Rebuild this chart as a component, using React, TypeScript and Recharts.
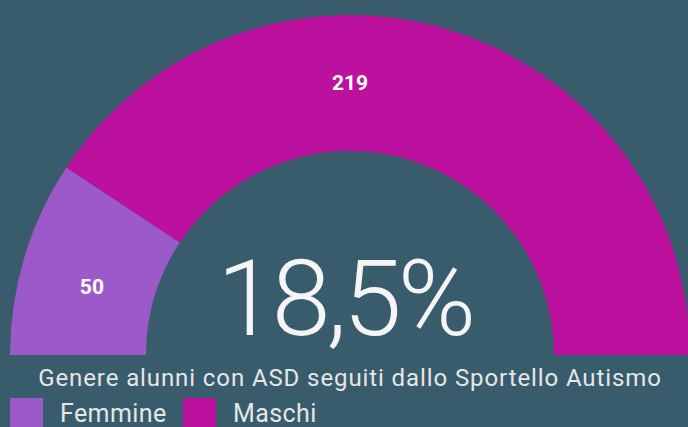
import React from "react";
import { PieChart, Pie, Cell, Legend } from "recharts";

const categories = ["Femmine", "Maschi"];
const values = [50, 219];
const colors = ["#9b59c9", "#bb119e"];
const centerLabel = "18,5%";
const title = "Genere alunni con ASD seguiti dallo Sportello Autismo";

const data = categories.map((name, i) => ({ name, value: values[i] }));

const BG = "#385c6c";
const FONT = "Roboto, 'Noto Sans', sans-serif";
const RAD = Math.PI / 180;

const renderLabel = (props: any) => {
  const { cx, cy, innerRadius, outerRadius, midAngle, index, value } = props;
  const mid = (innerRadius + outerRadius) / 2;
  // largest slice label sits at the top of the gauge
  const ang = index === 1 ? 90 : midAngle + 1.9;
  const r = index === 1 ? mid : mid - 5;
  const x = cx + r * Math.cos(-ang * RAD);
  const y = cy + r * Math.sin(-ang * RAD);
  return (
    <text
      x={x}
      y={y}
      fill="#ffffff"
      textAnchor="middle"
      dominantBaseline="central"
      fontFamily={FONT}
      fontWeight={700}
      fontSize={21}
    >
      {value}
    </text>
  );
};

const legendX = [10, 183];

const renderLegend = () => (
  <div style={{ position: "relative", height: 30, fontFamily: FONT }}>
    {categories.map((c, i) => (
      <div
        key={c}
        style={{ position: "absolute", left: legendX[i], top: 0, display: "flex", alignItems: "center" }}
      >
        <div style={{ width: 33, height: 30, background: colors[i] }} />
        <span
          style={{
            color: "#e6e6e6",
            fontSize: 25,
            marginLeft: 17,
            lineHeight: "30px",
            letterSpacing: 0.4,
            position: "relative",
            top: 1,
          }}
        >
          {c}
        </span>
      </div>
    ))}
  </div>
);

export default function App() {
  return (
    <div
      style={{
        position: "absolute",
        left: 0,
        top: 0,
        width: 688,
        height: 427,
        background: BG,
        overflow: "hidden",
      }}
    >
      <PieChart width={688} height={427} margin={{ top: 0, right: 0, bottom: 0, left: 0 }}>
        <Pie
          data={data}
          dataKey="value"
          nameKey="name"
          cx={350}
          cy={355}
          innerRadius={204}
          outerRadius={340}
          startAngle={180}
          endAngle={0}
          stroke="none"
          isAnimationActive={false}
          label={renderLabel}
          labelLine={false}
        >
          {data.map((d, i) => (
            <Cell key={d.name} fill={colors[i]} />
          ))}
        </Pie>
        <text
          x={344.5}
          y={335}
          textAnchor="middle"
          fill="#f5f5f5"
          fontFamily={FONT}
          fontWeight={300}
          fontSize={106}
          letterSpacing={-4}
        >
          {centerLabel}
        </text>
        <text
          x={350}
          y={386}
          textAnchor="middle"
          fill="#e6e6e6"
          fontFamily={FONT}
          fontSize={24}
          letterSpacing={0.9}
        >
          {title}
        </text>
        <Legend
          content={renderLegend}
          wrapperStyle={{ position: "absolute", left: 0, top: 398, width: 688 }}
        />
      </PieChart>
    </div>
  );
}
